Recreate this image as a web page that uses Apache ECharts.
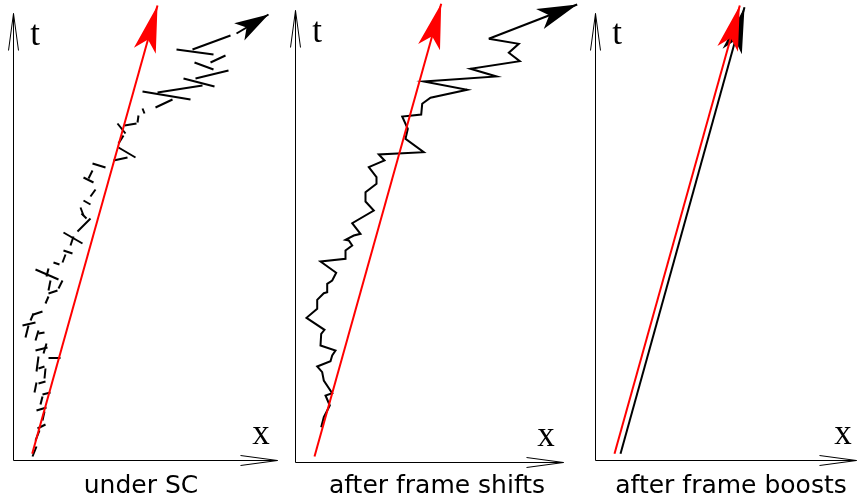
<!DOCTYPE html>
<html>
<head>
<meta charset="utf-8">
<script src="https://cdn.jsdelivr.net/npm/echarts@6/dist/echarts.min.js"></script>
<style>
html, body { margin: 0; padding: 0; background: #fff; }
#main { width: 857px; height: 497px; }
</style>
</head>
<body>
<div id="main"></div>
<script>
// captions under each panel
var captions = ['under SC', 'after frame shifts', 'after frame boosts'];
// length of the x and t axes in each panel
var axisLengths = [[264, 447], [268, 452], [261, 447]];

// red reference worldline per panel: [x0, t0, xTip, tTip]
var redLines = [
    [18.7, 6.7, 144, 455],
    [19, 6, 145.7, 458.7],
    [19, 6.7, 144.3, 455]
];

// panel 1 (under SC): broken pieces of the trajectory [x1, t1, x2, t2]
var scDashes = [
    [19, 4, 23, 14], [22, 20, 26, 30], [24, 32, 32, 36], [29, 40, 31, 49],
    [23, 50, 33, 53], [27, 56, 29, 64], [29, 66, 37, 68], [21, 68, 23, 78],
    [25, 77, 32, 79], [31, 82, 32, 92], [25, 92, 31, 94], [23, 89, 25, 104],
    [35, 103, 47, 103], [22, 110, 34, 113], [30, 107, 33, 117], [22, 120, 25, 130],
    [25, 127, 31, 128], [12, 123, 15, 135], [9, 135, 22, 138], [17, 140, 20, 147],
    [20, 146, 29, 149], [32, 157, 35, 164], [35, 167, 44, 170], [35, 170, 37, 180],
    [45, 172, 49, 180], [22, 191, 45, 181], [35, 192, 33, 184], [40, 198, 46, 196],
    [49, 198, 52, 206], [50, 210, 59, 207], [57, 215, 60, 224], [50, 228, 69, 217],
    [64, 229, 77, 242], [68, 247, 73, 242], [67, 253, 70, 245], [70, 260, 77, 256],
    [77, 264, 82, 271], [70, 283, 80, 278], [75, 282, 79, 290], [79, 297, 92, 293],
    [100, 300, 114, 303], [105, 313, 122, 303], [105, 317, 110, 325], [104, 337, 112, 327],
    [111, 335, 123, 337], [124, 338, 125, 345], [129, 352, 131, 347], [142, 353, 159, 361],
    [129, 369, 177, 361], [144, 368, 189, 375], [170, 382, 201, 374], [182, 382, 215, 390],
    [181, 398, 200, 391], [197, 398, 212, 405], [163, 411, 200, 406], [179, 411, 217, 425]
];
var scArrow = [223, 427, 255, 446];

// panel 2 (after frame shifts): connected zigzag trajectory
var shiftPath = [
    [25.7, 35.3], [28.3, 45.3], [34.3, 57], [30, 67], [36.7, 69.3], [28.3, 82],
    [26.7, 90.3], [21.7, 96], [35, 101.3], [36.7, 107], [40, 112], [25, 117],
    [25.7, 128.7], [29, 132.7], [11, 144.7], [21.7, 153.7], [21.7, 162.7], [28.3, 169.3],
    [31.7, 170.3], [31.7, 178.7], [36.7, 182], [40.7, 189.7], [25, 201], [50, 203.7],
    [50, 212], [56.7, 217], [53.3, 222], [50, 222.7], [58.3, 227], [65, 228.7],
    [56.7, 239.3], [78.3, 252], [70, 261], [70, 270.3], [81, 278.7], [81, 285.3],
    [73.3, 295.3], [89, 302], [83.3, 308], [128.3, 310.3], [110, 323.7], [112.3, 333.7],
    [106.7, 346], [125.7, 348], [126.7, 358.7], [135, 364.7], [171.7, 372.7], [128.3, 381],
    [201, 386], [175, 393.7], [224.3, 401.3], [213.3, 409.7], [223.3, 418.7], [193.3, 423.7]
];
var shiftArrowTip = [281.7, 458];

// panel 3 (after frame boosts): straight boosted trajectory
var boostLine = [25, 6.7, 149, 453.3];

// layout: pixel origin of each panel and drawable width
var origins = [[13.5, 460.5], [295.5, 462.5], [595.5, 460.5]];
var widths = [270, 292, 261];

var grids = [], xAxes = [], yAxes = [];
origins.forEach(function (o, i) {
    grids.push({ left: o[0], top: 0, width: widths[i], height: o[1], containLabel: false });
    xAxes.push({ type: 'value', gridIndex: i, min: 0, max: widths[i], show: false });
    yAxes.push({ type: 'value', gridIndex: i, min: 0, max: o[1], show: false });
});

function linesSeries(p, data, color, width, poly, z) {
    return {
        type: 'lines', coordinateSystem: 'cartesian2d',
        xAxisIndex: p, yAxisIndex: p, polyline: poly,
        symbol: 'none', silent: true, animation: false, clip: false, z: z || 2,
        lineStyle: { color: color, width: width, opacity: 1, curveness: 0 },
        data: data
    };
}

// arrow line, head drawn at the tip end
function arrowSeries(p, seg, color, size, z) {
    var s = linesSeries(p, [{ coords: [[seg[0], seg[1]], [seg[2], seg[3]]] }], color, 2, false, z);
    s.symbol = ['none', 'arrow'];
    s.symbolSize = [0, size];
    return s;
}

function axisCoords(len) {
    var xl = len[0], tl = len[1];
    return [
        { coords: [[0, 0], [xl, 0]] },
        { coords: [[xl - 37, 5], [xl, 0], [xl - 37, -5]] },
        { coords: [[0, 0], [0, tl]] },
        { coords: [[-5, tl - 37], [0, tl], [5, tl - 37]] }
    ];
}

var series = [];
axisLengths.forEach(function (len, p) {
    series.push(linesSeries(p, axisCoords(len), '#000', 1, true));
});

series.push(linesSeries(0, scDashes.map(function (d) {
    return { coords: [[d[0], d[1]], [d[2], d[3]]] };
}), '#000', 2, false));
series.push(arrowSeries(0, scArrow, '#000', [15, 34]));

series.push(linesSeries(1, [{ coords: shiftPath }], '#000', 2, true));
var last = shiftPath[shiftPath.length - 1];
series.push(arrowSeries(1, [last[0], last[1], shiftArrowTip[0], shiftArrowTip[1]], '#000', [16, 40]));

series.push(arrowSeries(2, boostLine, '#000', [15, 46]));

var redSizes = [[17, 47], [17, 45], [16, 45]];
redLines.forEach(function (r, p) {
    series.push(arrowSeries(p, r, '#ff0000', redSizes[p], 4));
});

// text labels
var serif = '35px "Liberation Serif"';
var sans = '25px "DejaVu Sans"';
function label(text, x, y, font) {
    return {
        type: 'text', x: x, y: y, silent: true,
        style: {
            text: text, font: font, fill: '#000',
            align: 'center', textAlign: 'center',
            verticalAlign: 'middle', textVerticalAlign: 'middle'
        }
    };
}
var graphics = [
    label('t', 35, 36, serif), label('t', 317, 33, serif), label('t', 617, 35, serif),
    label('x', 261, 435, serif), label('x', 546, 437, serif), label('x', 843, 435, serif),
    label(captions[0], 141, 486, sans), label(captions[1], 437, 486, sans), label(captions[2], 731, 486, sans)
];

var myChart = echarts.init(document.getElementById('main'), null, { renderer: 'canvas' });
myChart.setOption({
    backgroundColor: '#fff',
    animation: false,
    grid: grids,
    xAxis: xAxes,
    yAxis: yAxes,
    series: series,
    graphic: graphics
});
</script>
</body>
</html>
